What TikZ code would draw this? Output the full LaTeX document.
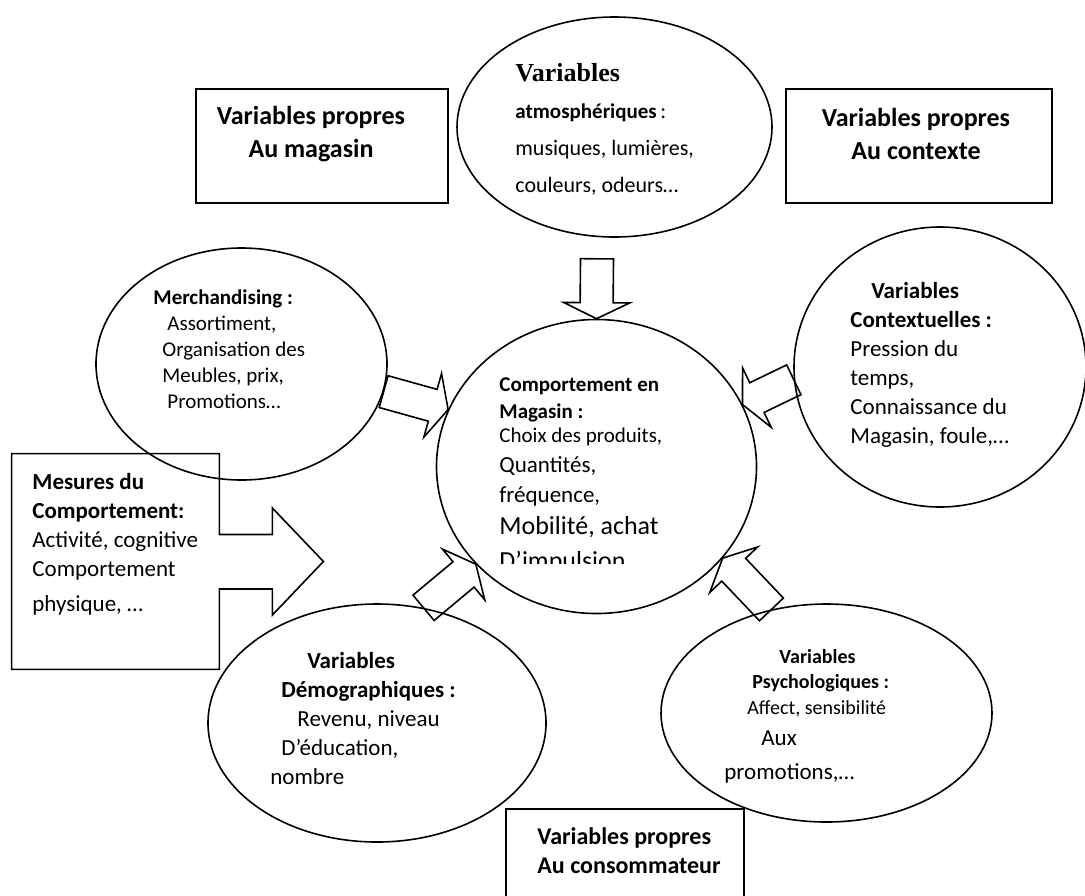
\documentclass[tikz,border=0pt]{standalone}
\usepackage{fontspec}
\setmainfont{Carlito}
\newfontfamily\serifbold{Liberation Serif}
\usepackage{tikz}
\usetikzlibrary{shapes.geometric,positioning,calc}

\newcommand{\shaftw}{8.25pt}
\newcommand{\headw}{16.5pt}
\newcommand{\headlen}{8pt}
\newcommand{\blockarrow}[2]{%
  \path (#1) coordinate (ba-s) (#2) coordinate (ba-t);
  \path ($(ba-t)!\headlen!(ba-s)$) coordinate (ba-h);
  \draw[fatarrow] ($(ba-s)!\shaftw!90:(ba-t)$) -- ($(ba-h)!\shaftw!90:(ba-t)$)
    -- ($(ba-h)!\headw!90:(ba-t)$) -- (ba-t) -- ($(ba-h)!\headw!-90:(ba-t)$)
    -- ($(ba-h)!\shaftw!-90:(ba-t)$) -- ($(ba-s)!\shaftw!-90:(ba-t)$) -- cycle;}

\tikzset{
  bulle/.style={draw, ellipse, line width=0.8pt, inner sep=0pt},
  cadre/.style={draw, rectangle, line width=0.8pt, inner sep=0pt},
  fatarrow/.style={draw, line width=0.8pt, line join=miter},
  txt/.style={align=left, inner sep=0pt, anchor=north west},
  titre/.style={align=center, inner sep=0pt, font=\bfseries\fontsize{13}{16.5}\selectfont}
}

\begin{document}
\begin{tikzpicture}[x=0.5pt,y=-0.5pt]
  \useasboundingbox (0,0) rectangle (1085,895);

  \node[cadre, minimum width=126pt, minimum height=57pt] (magasin) at (322,146) {};
  \node[cadre, minimum width=133pt, minimum height=57pt] (contexte) at (919,146) {};
  \node[cadre, minimum width=119pt, minimum height=61pt] (conso) at (625,870) {};
  \node[minimum width=103.5pt, minimum height=107.5pt, inner sep=0pt] (mesures) at (115.5,561.5) {};

  \node[bulle, minimum width=157.5pt, minimum height=110pt] (atm) at (614.5,127) {};
  \node[bulle, minimum width=145.5pt, minimum height=116pt] (merch) at (241.5,364) {};
  \node[bulle, minimum width=160pt, minimum height=147pt] (central) at (596.5,466.5) {};
  \node[bulle, minimum width=146pt, minimum height=140pt] (context) at (940,367) {};
  \node[bulle, minimum width=169pt, minimum height=119pt] (demo) at (377,723) {};
  \node[bulle, minimum width=165.5pt, minimum height=109pt] (psycho) at (826.5,713) {};

  \draw[fatarrow] (mesures.north west) -- (mesures.north east) -- ($(mesures.east)+(0,-27)$)
    -- ++(53,0) -- ++(0,-26.5) -- ($(mesures.east)+(104,0)$) -- ($(mesures.east)+(53,53.5)$)
    -- ++(0,-26) -- ($(mesures.east)+(0,27.5)$) -- (mesures.south east) -- (mesures.south west) -- cycle;

  \blockarrow{$(atm.south)+(-17.5,21)$}{central.north}
  \blockarrow{merch.-11}{central.159}
  \blockarrow{context.185}{central.23}
  \blockarrow{demo.68}{central.219}
  \blockarrow{psycho.118}{central.-36}

  \node[titre] (magasintxt) at (311,134) {Variables propres\\Au magasin};
  \node[titre] (contextetxt) at (916,134) {Variables propres\\Au contexte};
  \node[txt, anchor=west, font=\bfseries\fontsize{12}{14.5}\selectfont] (consotxt) at (537,851)
    {Variables propres\\Au consommateur};

  \node[txt, font=\fontsize{11}{18.5}\selectfont] (atmtxt) at (515,63)
    {{\serifbold\bfseries\fontsize{13}{15}\selectfont Variables}\\
     {\bfseries\fontsize{10.5}{12}\selectfont atmosphériques}\,:\\
     musiques, lumières,\\couleurs, odeurs…};
  \node[txt, font=\fontsize{10.5}{13}\selectfont] (merchtxt) at (153,289)
    {\textbf{Merchandising :}\\\hspace*{7pt}Assortiment,\\\hspace*{4.5pt}Organisation des\\
     \hspace*{4.5pt}Meubles, prix,\\\hspace*{7pt}Promotions…};
  \node[txt, font=\fontsize{11.5}{14.5}\selectfont] (contexttxt) at (850,282)
    {\hspace*{10.5pt}\textbf{Variables}\\\textbf{Contextuelles :}\\Pression du\\temps,\\
     Connaissance du\\Magasin, foule,…};
  \node[txt, font=\fontsize{11.5}{14.5}\selectfont] (mesurestxt) at (32,473)
    {\textbf{Mesures du}\\\textbf{Comportement:}\\Activité, cognitive\\Comportement\\[3pt]physique, …};
  \node[txt, font=\fontsize{11.5}{14.5}\selectfont] (demotxt) at (270,652)
    {\hspace*{18.5pt}\textbf{Variables}\\\hspace*{5.5pt}\textbf{Démographiques :}\\
     \hspace*{13.5pt}Revenu, niveau\\\hspace*{5.5pt}D’éducation,\\nombre};
  \node[txt, font=\fontsize{10}{12.5}\selectfont] (psychotxt) at (724,649)
    {\hspace*{27.5pt}\textbf{Variables}\\\hspace*{14pt}\textbf{Psychologiques :}\\[0.5pt]
     \hspace*{11.5pt}Affect, sensibilité\\[3pt]
     \hspace*{18.5pt}{\fontsize{11.5}{14}\selectfont Aux}\\[4.5pt]
     {\fontsize{11.5}{14}\selectfont promotions,…}};

  \begin{scope}
    \clip (436,300) rectangle (760,563);
    \node[txt, font=\fontsize{10.5}{12}\selectfont] (centraltxt) at (499,377)
      {\textbf{Comportement en}\\[1.5pt]\textbf{Magasin :}\\Choix des produits,\\[3pt]
       {\fontsize{11.5}{13}\selectfont Quantités,}\\[3pt]
       {\fontsize{11.5}{13}\selectfont fréquence,}\\[4pt]
       {\fontsize{13}{15}\selectfont Mobilité, achat}\\[5.5pt]
       {\fontsize{13}{15}\selectfont D’impulsion,}};
  \end{scope}
\end{tikzpicture}
\end{document}
